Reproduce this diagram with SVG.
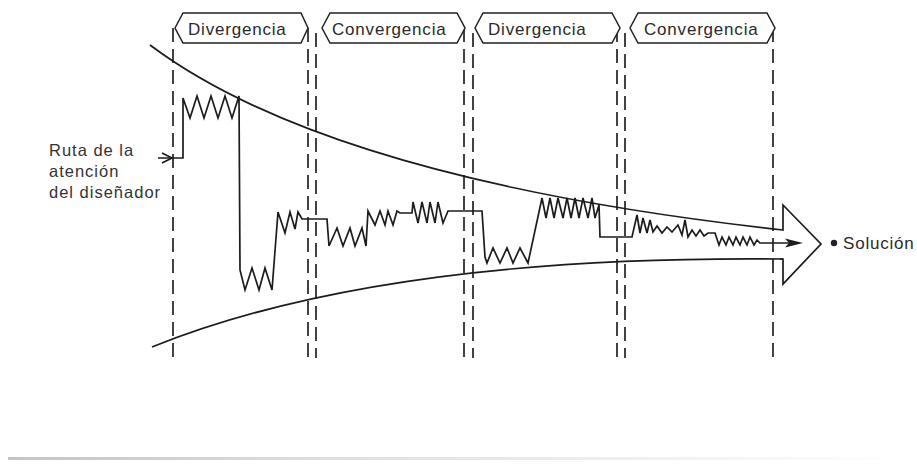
<svg xmlns="http://www.w3.org/2000/svg" width="917" height="468" viewBox="0 0 917 468">
  <defs>
    <style>
      .ln { fill: none; stroke: #1c1c1c; stroke-width: 1.7; stroke-linejoin: miter; }
      .dash { fill: none; stroke: #222; stroke-width: 1.7; stroke-dasharray: 14 7; }
      .box { fill: #fff; stroke: #222; stroke-width: 1.5; }
      .lbl { font-family: "Liberation Sans", Arial, sans-serif; font-size: 17px; letter-spacing: 0.8px; fill: #2a2a2a; }
      .txt { font-family: "Liberation Sans", Arial, sans-serif; font-size: 16.5px; letter-spacing: 1px; fill: #333; }
    </style>
    <linearGradient id="shadow" x1="0" y1="0" x2="1" y2="0">
      <stop offset="0" stop-color="#c4c4c4"/>
      <stop offset="0.35" stop-color="#dedede"/>
      <stop offset="1" stop-color="#ffffff"/>
    </linearGradient>
  </defs>
  <rect x="0" y="0" width="917" height="468" fill="#ffffff"/>
  <rect x="8" y="457" width="900" height="3" fill="url(#shadow)"/>

  <g id="phase-lines">
    <line class="dash" x1="173" y1="28" x2="173" y2="358"/>
    <line class="dash" x1="308" y1="28" x2="308" y2="358"/>
    <line class="dash" x1="316" y1="33" x2="316" y2="358"/>
    <line class="dash" x1="464" y1="28" x2="464" y2="358"/>
    <line class="dash" x1="473" y1="33" x2="473" y2="358"/>
    <line class="dash" x1="617" y1="28" x2="617" y2="358"/>
    <line class="dash" x1="625" y1="33" x2="625" y2="358"/>
    <line class="dash" x1="773" y1="28" x2="773" y2="358"/>
  </g>

  <g id="label-divergencia-1">
    <polygon class="box" points="175,28 183,13 301,13 308,28 301,43 183,43"/>
    <text class="lbl" x="188" y="35">Divergencia</text>
  </g>
  <g id="label-convergencia-1">
    <polygon class="box" points="322,28 330,13 457,13 465,28 457,43 330,43"/>
    <text class="lbl" x="332" y="35">Convergencia</text>
  </g>
  <g id="label-divergencia-2">
    <polygon class="box" points="475,28 483,13 612,13 620,28 612,43 483,43"/>
    <text class="lbl" x="488" y="35">Divergencia</text>
  </g>
  <g id="label-convergencia-2">
    <polygon class="box" points="630,28 638,13 767,13 775,28 767,43 638,43"/>
    <text class="lbl" x="644" y="35">Convergencia</text>
  </g>

  <g id="funnel">
    <path class="ln" d="M150,45 Q330,180 783,230 L783,205 L821,244 L783,284 L783,259 L780,259"/>
    <path class="ln" d="M152,347 Q380,255 783,259"/>
  </g>

  <g id="designer-label">
    <text class="txt" x="49" y="156">Ruta de la</text>
    <text class="txt" x="49" y="177">atención</text>
    <text class="txt" x="49" y="198">del diseñador</text>
  </g>

  <g id="solution">
    <circle cx="834" cy="243" r="3.2" fill="#222"/>
    <text class="lbl" x="843" y="249">Solución</text>
  </g>

  <g id="connectors">
    <path class="ln" d="M162,153 L172,158 L162,163"/>
    <path class="ln" d="M158,158 L183,158 L183,98
      L190,118 L197,96 L204,118 L211,96 L218,118 L225,96 L232,118 L239,96
      L240,270 L245,290 L252,268 L259,290 L265,268 L272,290
      L278,212 L285,233 L290,212 L295,229 L298,212 L302,219 L327,219
      L329,246 L337,228 L343,246 L350,228 L355,246 L362,228 L366,246
      L368,211 L375,225 L380,211 L385,225 L388,211 L393,225 L397,211 L400,213 L412,213
      L413,202 L418,223 L422,202 L427,223 L430,202 L435,223 L438,202 L443,223 L448,211 L482,211
      L485,257 L487,263 L493,248 L500,263 L507,248 L513,263 L520,248 L528,263
      L542,198 L546,218 L550,198 L554,218 L558,198 L563,218 L567,198 L571,218 L575,198 L579,218 L583,198 L588,218 L592,198 L595,218 L599,205 L600,237 L632,237
      L637,215 L640,233 L643,218 L647,233 L650,220 L653,232 L657,226 L662,233 L667,227 L672,232 L678,225 L682,235 L685,220 L688,237 L692,230 L696,236 L700,230 L704,236 L708,233 L715,233
      L719,245 L722,237 L726,245 L729,237 L733,245 L736,237 L740,245 L743,237 L747,245 L750,237 L754,245 L757,240 L760,243 L798,243"/>
    <polygon points="803,243 785,238.5 789,243 785,247.5" fill="#1c1c1c"/>
  </g>
</svg>
